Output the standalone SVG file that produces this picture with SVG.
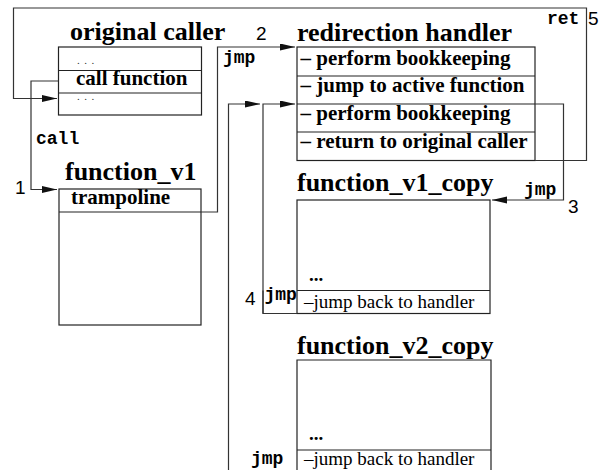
<svg xmlns="http://www.w3.org/2000/svg" width="612" height="470" viewBox="0 0 612 470">
<defs>
<marker id="ah" markerUnits="userSpaceOnUse" markerWidth="16" markerHeight="8" refX="15" refY="3.5" orient="auto">
<path d="M0,0 L15,3.5 L0,7 z" fill="#111"/>
</marker>
<style>
.box{fill:none;stroke:#222;stroke-width:1.2}
.con{fill:none;stroke:#333;stroke-width:1.2}
.arr{fill:none;stroke:#333;stroke-width:1.2;marker-end:url(#ah)}
.title{font-family:"Liberation Serif","Times New Roman",serif;font-weight:bold;font-size:26px;fill:#000}
.row{font-family:"Liberation Serif","Times New Roman",serif;font-weight:bold;font-size:21px;fill:#000}
.reg{font-family:"Liberation Serif","Times New Roman",serif;font-size:19px;fill:#000}
.dots{font-family:"Liberation Serif",serif;font-size:11px;letter-spacing:4.5px;fill:#333}
.bdots{font-family:"Liberation Serif",serif;font-weight:bold;font-size:19px;fill:#000}
.mono{font-family:"Liberation Mono","Courier New",monospace;font-weight:bold;font-size:18px;fill:#000}
.num{font-family:"Liberation Sans",Arial,sans-serif;font-size:19px;fill:#000}
</style>
</defs>
<rect width="612" height="470" fill="#fff"/>

<g id="original_caller">
<text class="title" x="70" y="40">original caller</text>
<rect class="box" x="58.5" y="47" width="143" height="68"/>
<line class="box" x1="58.5" y1="70.5" x2="201.5" y2="70.5"/>
<line class="box" x1="58.5" y1="93" x2="201.5" y2="93"/>
<text class="dots" x="77" y="64">...</text>
<text class="row" x="76" y="85">call function</text>
<text class="dots" x="77" y="100">...</text>
</g>

<g id="redirection_handler">
<text class="title" x="297" y="41">redirection handler</text>
<rect class="box" x="297" y="47" width="238" height="113.5"/>
<line class="box" x1="297" y1="76" x2="535" y2="76"/>
<line class="box" x1="297" y1="104" x2="535" y2="104"/>
<line class="box" x1="297" y1="132" x2="535" y2="132"/>
<text class="row" x="300.5" y="65">– perform bookkeeping</text>
<text class="row" x="300.5" y="92">– jump to active function</text>
<text class="row" x="300.5" y="120">– perform bookkeeping</text>
<text class="row" x="300.5" y="148">– return to original caller</text>
</g>

<g id="function_v1">
<text class="title" x="65" y="180">function_v1</text>
<rect class="box" x="59" y="189" width="142" height="136"/>
<line class="box" x1="59" y1="212" x2="201" y2="212"/>
<text class="row" x="71" y="204">trampoline</text>
</g>

<g id="function_v1_copy">
<text class="title" x="297" y="191">function_v1_copy</text>
<rect class="box" x="297" y="200" width="193" height="113.5"/>
<line class="box" x1="297" y1="290.5" x2="490" y2="290.5"/>
<text class="bdots" x="309" y="281">...</text>
<text class="reg" x="304" y="308">–jump back to handler</text>
</g>

<g id="function_v2_copy">
<text class="title" x="297" y="354">function_v2_copy</text>
<path class="box" d="M297,475 V360 H491 V475"/>
<line class="box" x1="297" y1="450" x2="491" y2="450"/>
<text class="bdots" x="309" y="440">...</text>
<text class="reg" x="304" y="465">–jump back to handler</text>
</g>

<g id="connectors">
<path class="arr" d="M535,160.5 H586.5 V8 H13.5 V98.5 H57"/>
<path class="arr" d="M58.5,81 H31 V189.5 H57"/>
<path class="arr" d="M201,212 H217.5 V47 H295"/>
<path class="arr" d="M535,104 H563.5 V200 H492"/>
<path class="arr" d="M297,313.5 H263 V104 H295"/>
<line class="con" x1="263" y1="290.5" x2="263" y2="313.5"/>
<path class="arr" d="M228.5,475 V104 H260"/>
<text class="mono" x="36" y="144">call</text>
<text class="mono" x="223" y="63">jmp</text>
<text class="mono" x="547" y="24">ret</text>
<text class="mono" x="524" y="195">jmp</text>
<text class="mono" x="264.5" y="300">jmp</text>
<text class="mono" x="251" y="464">jmp</text>
<text class="num" x="15" y="194">1</text>
<text class="num" x="256" y="40">2</text>
<text class="num" x="568" y="213">3</text>
<text class="num" x="245" y="305">4</text>
<text class="num" x="588" y="25">5</text>
</g>
</svg>
